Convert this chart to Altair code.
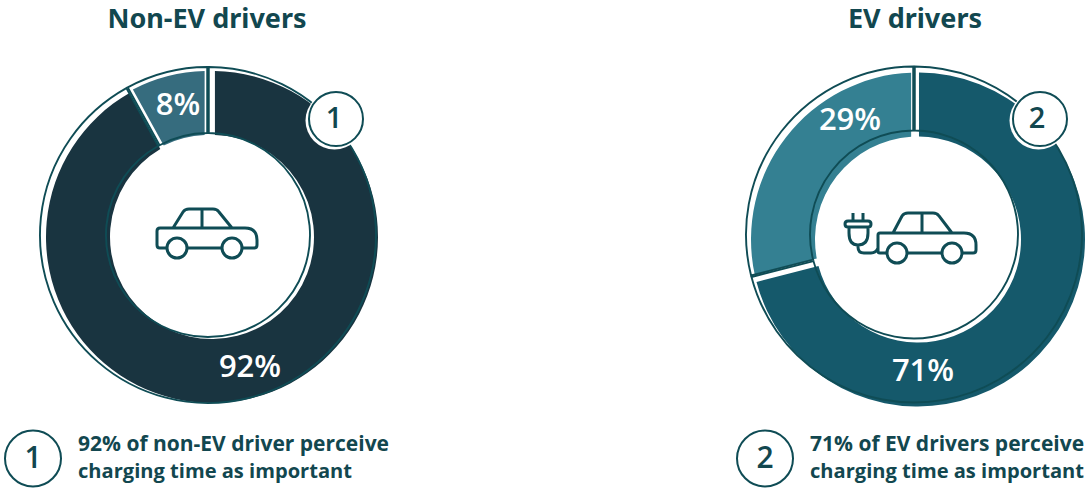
import altair as alt
import pandas as pd

# Survey shares: the first slice of each ring runs clockwise from twelve o'clock
titles = ["Non-EV drivers", "EV drivers"]
non_ev_shares = [92, 8]
ev_shares = [71, 29]
badge_numbers = ["1", "2"]
caption_lines_non_ev = ["92% of non-EV driver perceive", "charging time as important"]
caption_lines_ev = ["71% of EV drivers perceive", "charging time as important"]

INK = "#12474f"
LINE = "#0f4c55"
WHITE = "#ffffff"
FILLS_NON_EV = ["#193440", "#366c7e"]
FILLS_EV = ["#15596b", "#348092"]
TITLE_FONT = "Noto Sans"
LABEL_FONT = "Open Sans"

CAR = (
    "M22,53 H15 Q12,53 12,50 V36 Q12,33 15,33 H100 Q112,33 112,45 V50 Q112,53 109,53 H97 "
    "M42,53 H77 "
    "M42,53 A10,10 0 1 1 22,53 A10,10 0 1 1 42,53 "
    "M97,53 A10,10 0 1 1 77,53 A10,10 0 1 1 97,53 "
    "M28,33 L38,17 Q40,14 44,14 H68 Q72,14 74,17 L87,33 "
    "M57,14 V33"
)
EV_CAR = (
    "M57,58 H50 Q48,58 48,56 V40 Q48,38 50,38 H134 Q146,38 146,50 V55 Q146,58 143,58 H132 "
    "M77,58 H112 "
    "M77,58 A10,10 0 1 1 57,58 A10,10 0 1 1 77,58 "
    "M132,58 A10,10 0 1 1 112,58 A10,10 0 1 1 132,58 "
    "M63,38 L72,21 Q74,18 78,18 H103 Q107,18 109,21 L122,38 "
    "M92,18 V38 "
    "M23,18 V26 M33,18 V26 "
    "M18,26 H38 Q41,26 41,29 Q41,32 38,32 H18 Q15,32 15,29 Q15,26 18,26 "
    "M19,32 V38 Q19,50 28,50 Q38,50 38,38 V32 "
    "M28,50 V52 Q28,58 34,58 H41 Q46,58 48,53"
)

THETA_SCALE = alt.Scale(domain=[0, 100], range=[0, 6.283185307])


def slices(shares):
    start = 0
    rows = []
    for share in shares:
        rows.append({"start": start, "end": start + share, "share": share})
        start += share
    return pd.DataFrame(rows)


def arc(rows, cx, cy, **mark):
    return alt.Chart(rows).mark_arc(**mark).encode(
        theta=alt.Theta("start:Q", scale=THETA_SCALE),
        theta2=alt.Theta2("end:Q"),
        x=alt.value(cx),
        y=alt.value(cy),
    )


def ring(shares, fills, pads, fill_centres, fill_r, line_c, line_r):
    table = slices(shares)
    layers = []
    for i, fill in enumerate(fills):
        layers.append(arc(table.iloc[[i]], fill_centres[i][0], fill_centres[i][1], fill=fill, padAngle=pads[i],
                          innerRadius=fill_r[0], outerRadius=fill_r[1]))
    for i in range(len(fills)):
        layers.append(arc(table.iloc[[i]], line_c[0], line_c[1], filled=False, stroke=LINE,
                          strokeWidth=1.9, padAngle=0.008,
                          innerRadius=line_r[0], outerRadius=line_r[1]))
    return layers


def text(value, x, y, size, color=INK, weight=700, font=LABEL_FONT, align="center"):
    return alt.Chart(pd.DataFrame({"t": [value]})).mark_text(
        font=font, fontSize=size, fontWeight=weight, color=color, align=align, baseline="middle"
    ).encode(x=alt.value(x), y=alt.value(y), text="t:N")


def dot(x, y, diameter, **mark):
    return alt.Chart(pd.DataFrame({"k": [0]})).mark_point(shape="circle", size=diameter ** 2, opacity=1, **mark).encode(
        x=alt.value(x), y=alt.value(y)
    )


def icon(path, x, y):
    return alt.Chart(pd.DataFrame({"k": [0]})).mark_point(
        shape=path, size=4, filled=False, stroke=LINE, strokeWidth=3, opacity=1
    ).encode(x=alt.value(x), y=alt.value(y))


layers = []
layers += ring(non_ev_shares, FILLS_NON_EV, [0.03, 0.045], [(212, 237), (209, 237)], (102, 166), (208, 235), (102, 168))
layers += ring(ev_shares, FILLS_EV, [0.01, 0.07], [(918, 239.5), (918, 239.5)], (103, 167), (914, 234.5), (104, 168))

# Numbered badges sitting on the rings
layers += [
    dot(334.5, 120.5, 58, fill=WHITE, filled=True, strokeWidth=0),
    dot(336, 119, 54, fill=WHITE, filled=True, stroke=LINE, strokeWidth=2),
    text(badge_numbers[0], 334, 119, 29, weight=600),
    dot(1038.5, 120.5, 58, fill=WHITE, filled=True, strokeWidth=0),
    dot(1040, 119, 54, fill=WHITE, filled=True, stroke=LINE, strokeWidth=2),
    text(badge_numbers[1], 1037, 119, 29, weight=600),
]

# Share labels inside the rings
layers += [
    text(f"{non_ev_shares[0]}%", 250, 368, 31, color=WHITE, weight=600),
    text(f"{non_ev_shares[1]}%", 178, 106, 31, color=WHITE, weight=600),
    text(f"{ev_shares[0]}%", 923, 372, 31, color=WHITE, weight=600),
    text(f"{ev_shares[1]}%", 850, 121, 31, color=WHITE, weight=600),
]

layers += [icon(CAR, 145, 195), icon(EV_CAR, 830, 195)]

layers += [
    text(titles[0], 207, 20, 27, font=TITLE_FONT),
    text(titles[1], 915, 20, 27, font=TITLE_FONT),
]

# Captions under each ring
layers += [
    dot(33, 458.5, 56, filled=False, stroke=LINE, strokeWidth=2),
    text(badge_numbers[0], 33, 459, 30, weight=600),
    text(caption_lines_non_ev[0], 78, 445, 21, align="left"),
    text(caption_lines_non_ev[1], 78, 472, 20.1, align="left"),
    dot(765, 458.5, 56, filled=False, stroke=LINE, strokeWidth=2),
    text(badge_numbers[1], 765, 459, 30, weight=600),
    text(caption_lines_ev[0], 810, 445, 21, align="left"),
    text(caption_lines_ev[1], 810, 472, 20.1, align="left"),
]

chart = alt.layer(*layers).properties(
    width=1087, height=490, padding=0, autosize=alt.AutoSizeParams(type="none"), background=WHITE
).configure_view(stroke=None)

chart.save("out.html", embed_options={"renderer": "svg", "actions": False})
